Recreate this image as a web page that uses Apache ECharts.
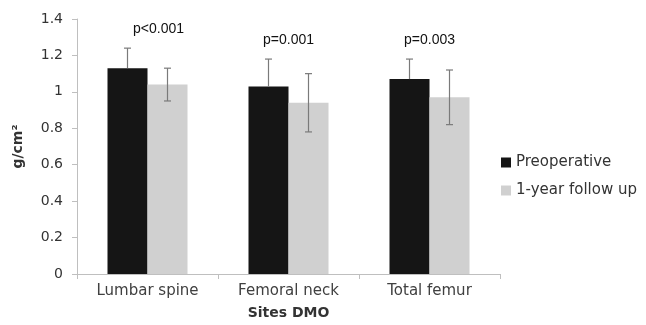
<!DOCTYPE html>
<html>
<head>
<meta charset="utf-8">
<script src="https://cdn.jsdelivr.net/npm/echarts@6/dist/echarts.min.js"></script>
<style>html,body{margin:0;padding:0;background:#fff}#c{width:646px;height:325px}</style>
</head>
<body>
<div id="c"></div>
<script>
var categories = ['Lumbar spine', 'Femoral neck', 'Total femur'];
var preopMean = [1.13, 1.03, 1.07];
var preopSD = [0.11, 0.15, 0.11];
var followMean = [1.04, 0.94, 0.97];
var followSD = [0.09, 0.16, 0.15];
var pValues = ['p<0.001', 'p=0.001', 'p=0.003'];
var seriesNames = ['Preoperative', '1-year follow up'];

var BAR_W = 40;
var chart = echarts.init(document.getElementById('c'), null, {renderer: 'canvas'});

function errRender(means, sds, side, plusOnly) {
  return function (params, api) {
    var i = api.value(0);
    var m = means[i], s = sds[i];
    var top = api.coord([i, m + s]);
    var bot = api.coord([i, plusOnly ? m : m - s]);
    var x = top[0] + side * BAR_W / 2;
    var cap = 3.5;
    var st = {stroke: '#7a7a7a', lineWidth: 1.2};
    var children = [
      {type: 'line', shape: {x1: x, y1: top[1], x2: x, y2: bot[1]}, style: st},
      {type: 'line', shape: {x1: x - cap, y1: top[1], x2: x + cap, y2: top[1]}, style: st}
    ];
    if (!plusOnly) children.push({type: 'line', shape: {x1: x - cap, y1: bot[1], x2: x + cap, y2: bot[1]}, style: st});
    return {type: 'group', children: children};
  };
}

var idx = categories.map(function (c, i) { return [i, 0]; });

chart.setOption({
  animation: false,
  grid: {left: 77, right: 146, top: 19, bottom: 48},
  legend: {
    orient: 'vertical', left: 496, top: 150,
    itemWidth: 10, itemHeight: 10, itemGap: 13,
    icon: 'rect',
    data: seriesNames,
    textStyle: {fontFamily: 'DejaVu Sans', fontSize: 15, color: '#333'}
  },
  xAxis: {
    type: 'category', data: categories,
    axisLine: {lineStyle: {color: '#bfbfbf', width: 1}},
    axisTick: {show: true, length: 5, lineStyle: {color: '#bfbfbf'}},
    axisLabel: {fontFamily: 'DejaVu Sans', fontSize: 15, color: '#404040', margin: 10},
    name: 'Sites DMO', nameLocation: 'middle', nameGap: 32,
    nameTextStyle: {fontFamily: 'DejaVu Sans', fontSize: 14, fontWeight: 'bold', color: '#333'}
  },
  yAxis: {
    type: 'value', min: 0, max: 1.4, interval: 0.2,
    splitLine: {show: false},
    axisLine: {show: true, lineStyle: {color: '#bfbfbf', width: 1}},
    axisTick: {show: true, length: 5, lineStyle: {color: '#bfbfbf'}},
    axisLabel: {fontFamily: 'DejaVu Sans', fontSize: 14, color: '#333', margin: 14},
    name: 'g/cm²', nameLocation: 'middle', nameGap: 52, nameRotate: 90,
    nameTextStyle: {fontFamily: 'DejaVu Sans', fontSize: 14, fontWeight: 'bold', color: '#333'}
  },
  series: [
    {name: seriesNames[0], type: 'bar', data: preopMean, barWidth: BAR_W, barGap: '0%',
     itemStyle: {color: '#151515'}},
    {name: seriesNames[1], type: 'bar', data: followMean, barWidth: BAR_W,
     itemStyle: {color: '#d0d0d0'}},
    {type: 'custom', data: idx, renderItem: errRender(preopMean, preopSD, -1, true), z: 10, silent: true},
    {type: 'custom', data: idx, renderItem: errRender(followMean, followSD, 1, false), z: 10, silent: true},
    {type: 'custom', data: idx, z: 10, silent: true,
     renderItem: function (params, api) {
       var i = api.value(0);
       var hi = Math.max(preopMean[i] + preopSD[i], followMean[i] + followSD[i]);
       var p = api.coord([i, hi]);
       return {type: 'text', x: p[0] + (i === 0 ? 11 : 0), y: p[1] - 19,
         style: {text: pValues[i], fill: '#111', font: '14px "Liberation Sans", Arial, sans-serif',
           align: 'center', verticalAlign: 'middle'}};
     }}
  ]
});
</script>
</body>
</html>
